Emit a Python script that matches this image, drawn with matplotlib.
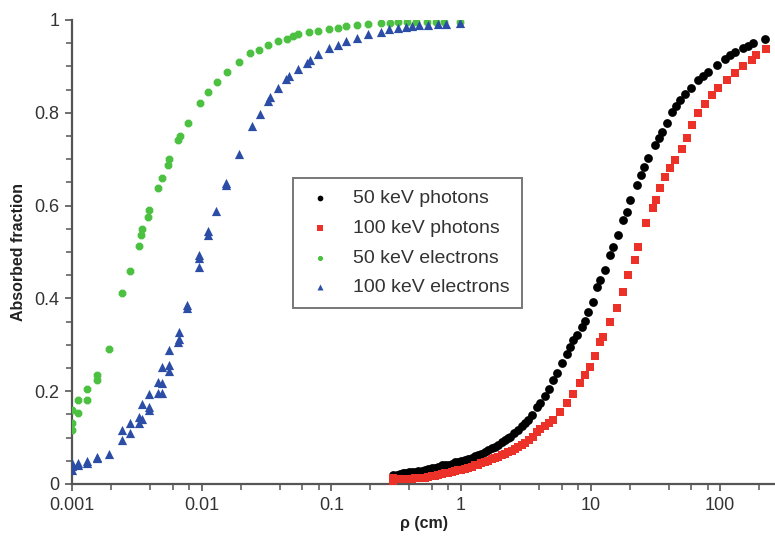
import matplotlib
matplotlib.use("Agg")
import matplotlib.pyplot as plt
from matplotlib.ticker import FixedLocator, NullFormatter

plt.rcParams['font.family'] = ['Liberation Sans', 'DejaVu Sans']

# 50 keV photons
ph50_x = [0.300, 0.300, 0.320, 0.338, 0.355, 0.370, 0.395, 0.419, 0.445, 0.469, 0.50, 0.528,
          0.56, 0.594, 0.63, 0.665, 0.71, 0.753, 0.80, 0.853, 0.90, 0.953, 1.01, 1.07, 1.14,
          1.21, 1.28, 1.36, 1.44, 1.53, 1.63, 1.73, 1.83, 1.94, 2.06, 2.19, 2.30, 2.39, 2.58,
          2.77, 2.95, 3.12, 3.30, 3.51, 3.84, 4.1, 4.45, 4.8, 5.15, 5.55, 5.98, 6.54, 6.9,
          7.36, 7.81, 8.54, 9.0, 9.60, 10.5, 11.3, 11.8, 12.9, 14.1, 15.0, 16.4, 17.9, 19.0,
          20.1, 22.7, 24.4, 26.0, 27.9, 31.4, 33.5, 35.4, 38.7, 42.3, 45.5, 49.0, 54.0, 59.2,
          67.7, 74.0, 80.9, 94.0, 109, 120, 130, 151, 165, 180, 222]
ph50_y = [0.016, 0.019, 0.020, 0.021, 0.023, 0.023, 0.025, 0.025, 0.026, 0.027, 0.029, 0.030,
          0.032, 0.034, 0.035, 0.037, 0.040, 0.041, 0.042, 0.044, 0.047, 0.048, 0.050, 0.051, 0.054,
          0.056, 0.060, 0.063, 0.065, 0.069, 0.074, 0.077, 0.080, 0.085, 0.091, 0.095, 0.100, 0.102, 0.110,
          0.116, 0.124, 0.131, 0.138, 0.148, 0.165, 0.175, 0.190, 0.205, 0.224, 0.240, 0.260, 0.280, 0.296,
          0.310, 0.322, 0.339, 0.352, 0.370, 0.393, 0.425, 0.440, 0.461, 0.494, 0.511, 0.537, 0.569, 0.587,
          0.612, 0.645, 0.666, 0.683, 0.702, 0.731, 0.745, 0.759, 0.777, 0.802, 0.815, 0.828, 0.841, 0.853,
          0.871, 0.880, 0.889, 0.903, 0.917, 0.925, 0.932, 0.939, 0.945, 0.951, 0.958]

# 100 keV photons
ph100_x = [0.300, 0.300, 0.300, 0.320, 0.338, 0.355, 0.370, 0.395, 0.419, 0.445, 0.469, 0.50,
           0.528, 0.56, 0.594, 0.63, 0.665, 0.71, 0.753, 0.80, 0.853, 0.90, 0.953, 1.01, 1.07,
           1.14, 1.21, 1.28, 1.36, 1.44, 1.53, 1.63, 1.73, 1.83, 1.94, 2.06, 2.19, 2.32, 2.46,
           2.62, 2.77, 2.95, 3.12, 3.35, 3.61, 3.84, 4.1, 4.45, 4.8, 5.15, 5.81, 6.54, 7.36,
           8.27, 9.06, 9.91, 10.8, 11.8, 12.5, 14.1, 16.0, 17.8, 19.5, 22.0, 23.3, 27.0, 30.4,
           32.2, 34.2, 37.4, 40.9, 44.8, 50.4, 55.1, 60.3, 67.7, 76.3, 86.0, 96.8, 112, 130,
           151, 176, 190, 226]
ph100_y = [0.006, 0.009, 0.012, 0.010, 0.010, 0.010, 0.010, 0.011, 0.011, 0.012, 0.012, 0.013,
           0.014, 0.016, 0.017, 0.018, 0.019, 0.021, 0.023, 0.024, 0.026, 0.028, 0.030, 0.031, 0.033,
           0.035, 0.037, 0.040, 0.042, 0.045, 0.048, 0.050, 0.053, 0.056, 0.059, 0.062, 0.065, 0.068, 0.071,
           0.075, 0.079, 0.084, 0.088, 0.095, 0.102, 0.113, 0.118, 0.126, 0.132, 0.138, 0.155, 0.174, 0.195,
           0.217, 0.235, 0.253, 0.275, 0.305, 0.317, 0.350, 0.379, 0.414, 0.450, 0.483, 0.511, 0.562, 0.594,
           0.612, 0.638, 0.662, 0.680, 0.698, 0.723, 0.745, 0.774, 0.799, 0.820, 0.838, 0.853, 0.871, 0.885,
           0.900, 0.914, 0.925, 0.937]

# 50 keV electrons
el50_x = [0.00100, 0.00100, 0.00100, 0.00112, 0.00112, 0.00131, 0.00131, 0.00156, 0.00156,
          0.00194, 0.00243, 0.00281, 0.00327, 0.00341, 0.00347, 0.00383, 0.00390, 0.00457,
          0.00491, 0.00547, 0.00564, 0.00661, 0.00681, 0.00780, 0.00966, 0.0112, 0.0131,
          0.0156, 0.0195, 0.0238, 0.0279, 0.0327, 0.0386, 0.0453, 0.0510, 0.0557, 0.0670,
          0.0785, 0.0967, 0.112, 0.130, 0.157, 0.193, 0.242, 0.284, 0.325, 0.382, 0.451,
          0.548, 0.643, 0.746, 0.98]
el50_y = [0.116, 0.131, 0.160, 0.181, 0.153, 0.205, 0.181, 0.235, 0.224,
          0.291, 0.412, 0.459, 0.513, 0.537, 0.549, 0.576, 0.590, 0.637,
          0.659, 0.687, 0.700, 0.741, 0.750, 0.778, 0.821, 0.844, 0.866,
          0.889, 0.909, 0.929, 0.935, 0.946, 0.955, 0.960, 0.966, 0.970, 0.974,
          0.976, 0.981, 0.983, 0.987, 0.989, 0.991, 0.994, 0.994, 0.996, 0.995, 0.995,
          0.995, 0.995, 0.995, 0.996]

# 100 keV electrons
el100_x = [0.00100, 0.00100, 0.00100, 0.00112, 0.00112, 0.00131, 0.00131, 0.00156, 0.00156,
           0.00194, 0.00243, 0.00243, 0.00281, 0.00281, 0.00327, 0.00327, 0.00347, 0.00347,
           0.00394, 0.00394, 0.00394, 0.00457, 0.00457, 0.00491, 0.00491, 0.00491, 0.00564,
           0.00564, 0.00564, 0.00653, 0.00673, 0.00673, 0.00771, 0.00771, 0.00960, 0.00960,
           0.00960, 0.0111, 0.0111, 0.0129, 0.0154, 0.0154, 0.0195, 0.0243, 0.0284, 0.0327,
           0.0337, 0.0386, 0.0448, 0.0475, 0.0551, 0.0646, 0.0686, 0.0785, 0.0967, 0.112,
           0.131, 0.157, 0.193, 0.242, 0.281, 0.325, 0.376, 0.420, 0.475, 0.554, 0.662,
           0.769, 0.98]
el100_y = [0.030, 0.045, 0.038, 0.045, 0.040, 0.050, 0.046, 0.058, 0.055,
           0.065, 0.095, 0.116, 0.110, 0.131, 0.131, 0.144, 0.172, 0.140,
           0.160, 0.166, 0.194, 0.196, 0.220, 0.218, 0.252, 0.196, 0.244,
           0.256, 0.289, 0.306, 0.328, 0.312, 0.379, 0.385, 0.468, 0.486,
           0.493, 0.537, 0.545, 0.588, 0.644, 0.648, 0.711, 0.772, 0.797, 0.825,
           0.834, 0.853, 0.873, 0.879, 0.894, 0.908, 0.914, 0.926, 0.939, 0.946,
           0.955, 0.961, 0.970, 0.974, 0.981, 0.983, 0.985, 0.987, 0.989, 0.989, 0.991,
           0.991, 0.994]

axis_gray = '#555555'
text_gray = '#333333'

fig = plt.figure(figsize=(7.75, 5.38), dpi=100)
ax = fig.add_axes([72 / 775, 1 - 484 / 538, 703 / 775, 464 / 538])

ax.scatter(ph50_x, ph50_y, s=40, marker='o', color='#000000', linewidths=0, label='50 keV photons', zorder=3)
ax.scatter(ph100_x, ph100_y, s=34, marker='s', color='#ec3128', linewidths=0, label='100 keV photons', zorder=3)
ax.scatter(el50_x, el50_y, s=36, marker='8', color='#4cc040', linewidths=0, label='50 keV electrons', zorder=3)
ax.scatter(el100_x, el100_y, s=44, marker='^', color='#2c4da6', linewidths=0, label='100 keV electrons', zorder=3)

ax.set_xscale('log')
ax.set_xlim(0.001, 265)
ax.set_ylim(0, 1)

ax.xaxis.set_major_locator(FixedLocator([0.001, 0.01, 0.1, 1, 10, 100]))
ax.set_xticklabels(['0.001', '0.01', '0.1', '1', '10', '100'])
minors = [m * 10.0 ** e for e in range(-3, 3) for m in (2, 4, 6, 8)]
ax.xaxis.set_minor_locator(FixedLocator(minors))
ax.xaxis.set_minor_formatter(NullFormatter())

ax.yaxis.set_major_locator(FixedLocator([0, 0.2, 0.4, 0.6, 0.8, 1]))
ax.set_yticklabels(['0', '0.2', '0.4', '0.6', '0.8', '1'])
ax.yaxis.set_minor_locator(FixedLocator([i * 0.05 for i in range(21)]))

for side in ('top', 'right'):
    ax.spines[side].set_visible(False)
for side in ('left', 'bottom'):
    ax.spines[side].set_color(axis_gray)
    ax.spines[side].set_linewidth(1.6)

ax.tick_params(which='major', direction='out', length=5, width=1.2, color=axis_gray,
               labelsize=13, labelcolor=text_gray, pad=4)
ax.tick_params(which='minor', direction='out', length=4, width=1.1, color=axis_gray)

ax.set_xlabel('ρ (cm)', fontsize=11.5, fontweight='bold', color='#222222', labelpad=2)
ax.set_ylabel('Absorbed fraction', fontsize=11.5, fontweight='bold', color='#222222', labelpad=6)

leg = ax.legend(loc='upper left', bbox_to_anchor=((293 - 72) / 703, (484 - 178) / 464),
                borderaxespad=0, frameon=True, fancybox=False, fontsize=14, markerscale=0.65,
                handletextpad=0.9, handlelength=1.6, labelspacing=0.62, borderpad=0.6,
                scatterpoints=1)
leg.get_frame().set_edgecolor(axis_gray)
leg.get_frame().set_linewidth(1.4)
for t in leg.get_texts():
    t.set_color(text_gray)

fig.savefig('out.png', dpi=100)
